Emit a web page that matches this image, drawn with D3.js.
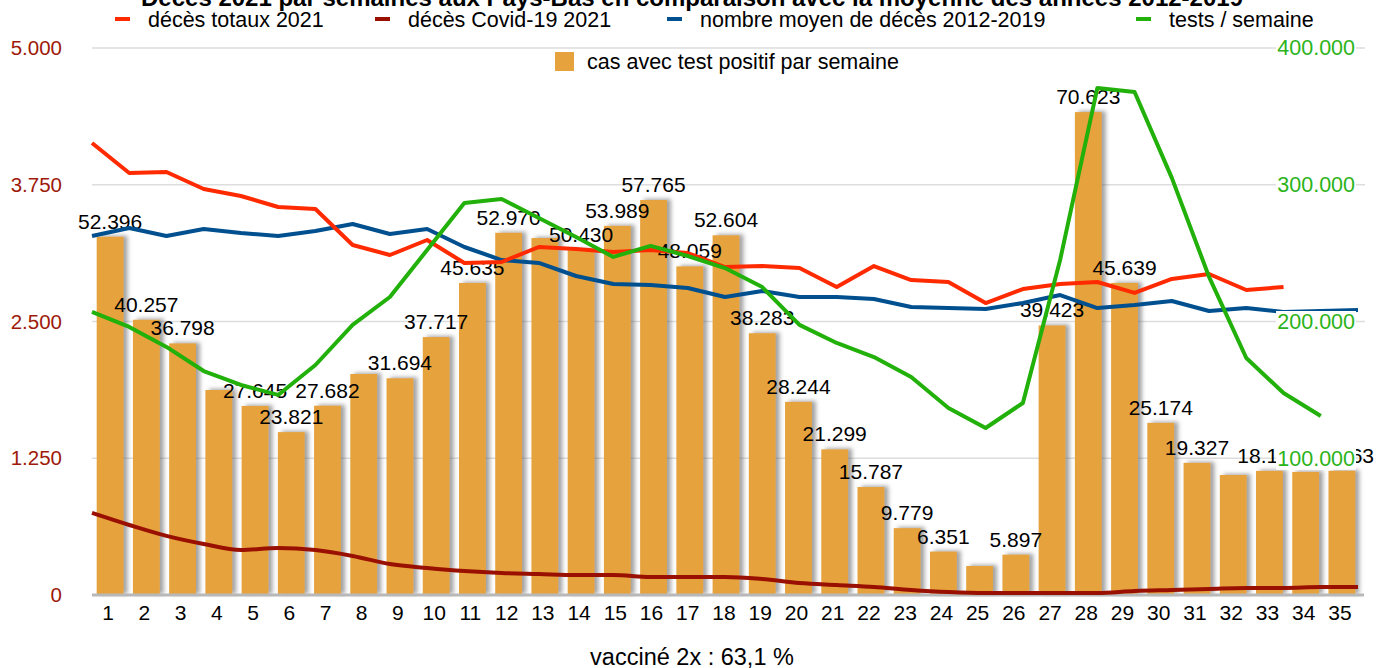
<!DOCTYPE html>
<html>
<head>
<meta charset="utf-8">
<script src="https://cdn.jsdelivr.net/npm/d3@7"></script>
<style>
  html, body { margin: 0; padding: 0; background: #ffffff; }
  svg { display: block; font-family: "Liberation Sans", Arial, sans-serif; }
</style>
</head>
<body>
<svg id="chart" width="1377" height="668"></svg>
<script>
// ---------- DATA ----------
const weeks = ["1","2","3","4","5","6","7","8","9","10","11","12","13","14","15","16","17","18","19","20","21","22","23","24","25","26","27","28","29","30","31","32","33","34","35"];
const cases = [52396,40257,36798,29980,27645,23821,27682,32320,31694,37717,45635,52970,52200,50430,53989,57765,48059,52604,38283,28244,21299,15787,9779,6351,4240,5897,39423,70623,45639,25174,19327,17550,18150,18000,18163];
const hiddenCaseLabels = ["4","8","13","25","32","34"];
const totalDeaths2021 = [4132,3857,3867,3711,3647,3547,3528,3199,3108,3245,3035,3044,3181,3163,3135,3154,3126,2998,3007,2989,2815,3007,2879,2861,2669,2797,2843,2861,2761,2889,2934,2788,2815];
const covidDeaths2021 = [750,640,540,466,411,430,411,357,283,247,219,201,192,183,183,165,165,165,146,110,91,73,46,27,18,18,18,18,37,46,55,64,64,73,73];
const avgDeaths20122019 = [3282,3355,3282,3346,3309,3282,3327,3391,3300,3346,3181,3062,3035,2916,2843,2834,2806,2724,2779,2724,2724,2706,2633,2623,2614,2669,2742,2623,2651,2687,2596,2623,2587,2596,2605];
const testsPerWeek = [207000,196000,181400,163800,153600,146300,168200,197500,217900,252300,286700,289600,275700,261800,247200,255300,247900,239100,225200,197500,184300,174000,159400,136800,122100,140400,245000,370800,367800,305000,232600,173300,147700,130900];
const leftTicks = [0,1250,2500,3750,5000];
const rightTicks = [100000,200000,300000,400000];
const titleText = "Décès 2021 par semaines aux Pays-Bas en comparaison avec la moyenne des années 2012-2019";
const xAxisTitle = "vacciné 2x : 63,1 %";
const legendRow1 = [
  {label: "décès totaux 2021", color: "#ff2a00", x: 115},
  {label: "décès Covid-19 2021", color: "#9a1000", x: 375},
  {label: "nombre moyen de décès 2012-2019", color: "#00508f", x: 667},
  {label: "tests / semaine", color: "#22b00a", x: 1136}
];
const legendBar = {label: "cas avec test positif par semaine", color: "#e6a23c"};

// ---------- SETUP ----------
const svg = d3.select("#chart");
const loc = d3.formatLocale({decimal: ",", thousands: ".", grouping: [3], currency: ["", ""]});
const fmt = loc.format(",d");

const plotLeft = 92, plotRight = 1360, plotTop = 48, plotBottom = 595;

const xBand = d3.scaleBand().domain(weeks).range([plotLeft, plotRight]).paddingInner(0.26).paddingOuter(0.13);
const xPoint = d3.scalePoint().domain(weeks).range([plotLeft, 1358]).padding(0);
const yLeft = d3.scaleLinear().domain([0, 5000]).range([plotBottom, plotTop]);
const yRight = d3.scaleLinear().domain([0, 400000]).range([plotBottom, plotTop]);
const yBars = d3.scaleLinear().domain([0, 80000]).range([plotBottom, plotTop]);

const barData = cases.map((v, i) => ({week: weeks[i], value: v}));

// filter for bar shadow
const defs = svg.append("defs");
const f = defs.append("filter").attr("id", "shadow").attr("x", "-30%").attr("y", "-10%").attr("width", "170%").attr("height", "130%");
f.append("feDropShadow").attr("dx", 4).attr("dy", -1).attr("stdDeviation", 2)
  .attr("flood-color", "#555").attr("flood-opacity", 0.55);

// ---------- GRID ----------
svg.append("g").selectAll("line").data(leftTicks.filter(d => d > 0)).join("line")
  .attr("x1", plotLeft).attr("x2", 1365)
  .attr("y1", d => yLeft(d)).attr("y2", d => yLeft(d))
  .attr("stroke", "#dddddd").attr("stroke-width", 1.5);

// ---------- BARS ----------
svg.append("g").attr("filter", "url(#shadow)")
  .selectAll("rect").data(barData).join("rect")
  .attr("x", d => xBand(d.week))
  .attr("width", xBand.bandwidth())
  .attr("y", d => yBars(d.value))
  .attr("height", d => plotBottom - yBars(d.value))
  .attr("fill", legendBar.color);

// baseline
svg.append("line").attr("x1", plotLeft).attr("x2", 1364)
  .attr("y1", plotBottom).attr("y2", plotBottom)
  .attr("stroke", "#b8b8b8").attr("stroke-width", 3);

// bar labels
svg.append("g").selectAll("text")
  .data(barData.filter(d => !hiddenCaseLabels.includes(d.week))).join("text")
  .attr("x", d => xBand(d.week) + xBand.bandwidth() / 2)
  .attr("y", d => yBars(d.value) - 8)
  .attr("text-anchor", "middle")
  .attr("font-size", 21).attr("fill", "#000")
  .text(d => fmt(d.value));

// ---------- LINES ----------
function drawLine(values, yScale, color, curve) {
  const line = d3.line()
    .x((d, i) => xPoint(weeks[i]))
    .y(d => yScale(d))
    .curve(curve || d3.curveLinear);
  svg.append("path")
    .datum(values)
    .attr("d", line)
    .attr("fill", "none")
    .attr("stroke", color)
    .attr("stroke-width", 4)
    .attr("stroke-linejoin", "round");
}
drawLine(covidDeaths2021, yLeft, legendRow1[1].color, d3.curveMonotoneX);
drawLine(avgDeaths20122019, yLeft, legendRow1[2].color);
drawLine(totalDeaths2021, yLeft, legendRow1[0].color);
drawLine(testsPerWeek, yRight, legendRow1[3].color);

// ---------- AXES ----------
const leftAxis = d3.axisLeft(yLeft).tickValues(leftTicks).tickSize(0).tickPadding(0)
  .tickFormat(d => fmt(d));
const gl = svg.append("g").attr("transform", "translate(62,0)").call(leftAxis);
gl.select(".domain").remove();
gl.selectAll("text").attr("font-size", 20.5).attr("fill", "#9e1a0a")
  .attr("font-family", "Liberation Sans, Arial, sans-serif");

const rightAxis = d3.axisLeft(yRight).tickValues(rightTicks).tickSize(0).tickPadding(0)
  .tickFormat(d => fmt(d));
const gr = svg.append("g").attr("transform", "translate(1355,0)").call(rightAxis);
gr.select(".domain").remove();
gr.selectAll(".tick").insert("rect", "text")
  .attr("x", -79).attr("y", -11).attr("width", 80).attr("height", 22).attr("fill", "#ffffff");
gr.selectAll("text").attr("font-size", 21.5).attr("fill", "#2bb31a")
  .attr("font-family", "Liberation Sans, Arial, sans-serif");

const bottomAxis = d3.axisBottom(xBand).tickSize(0).tickPadding(0);
const gb = svg.append("g").attr("transform", `translate(-2,${plotBottom + 10})`).call(bottomAxis);
gb.select(".domain").remove();
gb.selectAll("text").attr("font-size", 21).attr("fill", "#000")
  .attr("font-family", "Liberation Sans, Arial, sans-serif");

svg.append("text").attr("x", 692).attr("y", 665).attr("text-anchor", "middle")
  .attr("font-size", 23.5).attr("fill", "#000").text(xAxisTitle);

// ---------- TITLE ----------
svg.append("text").attr("x", 692).attr("y", 6).attr("text-anchor", "middle")
  .attr("font-size", 24).attr("font-weight", "bold").attr("fill", "#000").text(titleText);

// ---------- LEGEND ----------
const lg = svg.append("g");
legendRow1.forEach(e => {
  lg.append("line").attr("x1", e.x).attr("x2", e.x + 15).attr("y1", 19).attr("y2", 19)
    .attr("stroke", e.color).attr("stroke-width", 4);
  lg.append("text").attr("x", e.x + 33).attr("y", 26.5).attr("font-size", 21.5).attr("fill", "#000").text(e.label);
});
lg.append("rect").attr("x", 555).attr("y", 52).attr("width", 19).attr("height", 19).attr("fill", legendBar.color);
lg.append("text").attr("x", 587).attr("y", 68.5).attr("font-size", 21.5).attr("fill", "#000").text(legendBar.label);
</script>
</body>
</html>
